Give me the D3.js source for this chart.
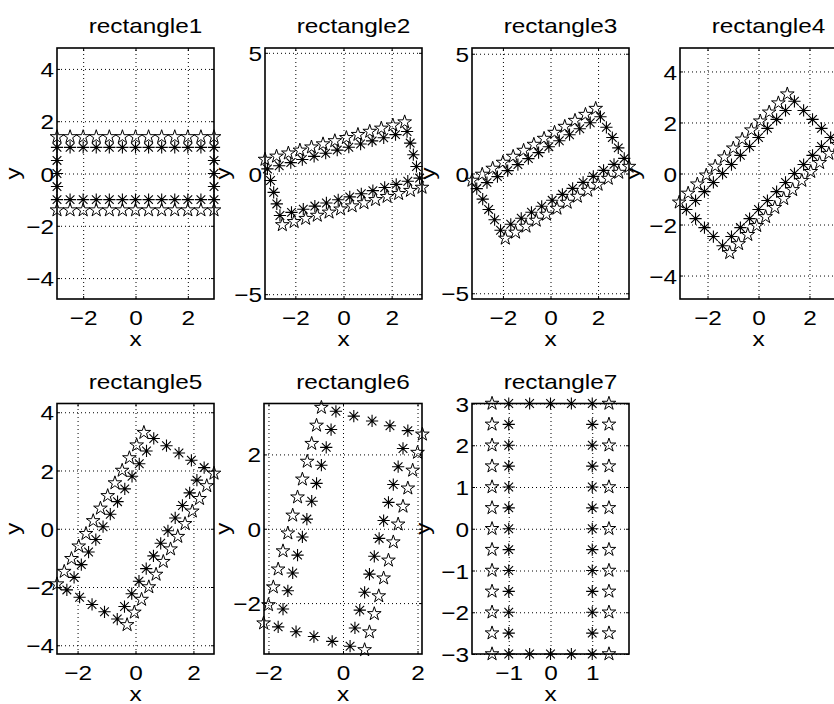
<!DOCTYPE html>
<html>
<head>
<meta charset="utf-8">
<script src="https://cdn.jsdelivr.net/npm/d3@7"></script>
<style>
  body { margin: 0; background: #fff; }
  svg { display: block; }
  text { font-family: "Liberation Sans", Arial, sans-serif; fill: #000; }
</style>
</head>
<body>
<svg class="vis" width="834" height="704"></svg>
<script>

const titles = ["rectangle1", "rectangle2", "rectangle3", "rectangle4", "rectangle5", "rectangle6", "rectangle7"];

// asterisk points (inner rectangle) and star points (outer rows), one pair of lists per panel
const rect1Ast = [[3,1],[2.5,1],[2,1],[1.5,1],[1,1],[0.5,1],[0,1],[-0.5,1],[-1,1],[-1.5,1],[-2,1],[-2.5,1],[-3,1],
  [-3,0.5],[-3,0],[-3,-0.5],
  [-3,-1],[-2.5,-1],[-2,-1],[-1.5,-1],[-1,-1],[-0.5,-1],[0,-1],[0.5,-1],[1,-1],[1.5,-1],[2,-1],[2.5,-1],[3,-1],
  [3,-0.5],[3,0],[3,0.5]];
const rect1Star = [[3,1.4],[2.5,1.4],[2,1.4],[1.5,1.4],[1,1.4],[0.5,1.4],[0,1.4],[-0.5,1.4],[-1,1.4],[-1.5,1.4],[-2,1.4],[-2.5,1.4],[-3,1.4],
  [-3,-1.4],[-2.5,-1.4],[-2,-1.4],[-1.5,-1.4],[-1,-1.4],[-0.5,-1.4],[0,-1.4],[0.5,-1.4],[1,-1.4],[1.5,-1.4],[2,-1.4],[2.5,-1.4],[3,-1.4]];

const rect2Ast = [[2.64,1.74],[2.16,1.61],[1.67,1.48],[1.19,1.35],[0.71,1.22],[0.22,1.09],[-0.26,0.97],[-0.74,0.84],[-1.22,0.71],[-1.71,0.58],[-2.19,0.45],[-2.67,0.32],[-3.16,0.19],
  [-3.03,-0.29],[-2.90,-0.78],[-2.77,-1.26],
  [-2.64,-1.74],[-2.16,-1.61],[-1.67,-1.48],[-1.19,-1.35],[-0.71,-1.22],[-0.22,-1.09],[0.26,-0.97],[0.74,-0.84],[1.22,-0.71],[1.71,-0.58],[2.19,-0.45],[2.67,-0.32],[3.16,-0.19],
  [3.03,0.29],[2.90,0.78],[2.77,1.26]];
const rect2Star = [[2.54,2.13],[2.05,2.00],[1.57,1.87],[1.09,1.74],[0.60,1.61],[0.12,1.48],[-0.36,1.35],[-0.85,1.22],[-1.33,1.09],[-1.81,0.96],[-2.29,0.84],[-2.78,0.71],[-3.26,0.58],
  [-2.54,-2.13],[-2.05,-2.00],[-1.57,-1.87],[-1.09,-1.74],[-0.60,-1.61],[-0.12,-1.48],[0.36,-1.35],[0.85,-1.22],[1.33,-1.09],[1.81,-0.96],[2.29,-0.84],[2.78,-0.71],[3.26,-0.58]];

const rect3Ast = [[2.10,2.37],[1.67,2.12],[1.23,1.87],[0.80,1.62],[0.37,1.37],[-0.07,1.12],[-0.5,0.87],[-0.93,0.62],[-1.37,0.37],[-1.80,0.12],[-2.23,-0.13],[-2.67,-0.38],[-3.10,-0.63],
  [-2.85,-1.07],[-2.60,-1.5],[-2.35,-1.93],
  [-2.10,-2.37],[-1.67,-2.12],[-1.23,-1.87],[-0.80,-1.62],[-0.37,-1.37],[0.07,-1.12],[0.5,-0.87],[0.93,-0.62],[1.37,-0.37],[1.80,-0.12],[2.23,0.13],[2.67,0.38],[3.10,0.63],
  [2.85,1.07],[2.60,1.5],[2.35,1.93]];
const rect3Star = [[1.90,2.71],[1.47,2.46],[1.03,2.21],[0.60,1.96],[0.17,1.71],[-0.27,1.46],[-0.7,1.21],[-1.13,0.96],[-1.57,0.71],[-2.00,0.46],[-2.43,0.21],[-2.87,-0.04],[-3.30,-0.29],
  [-1.90,-2.71],[-1.47,-2.46],[-1.03,-2.21],[-0.60,-1.96],[-0.17,-1.71],[0.27,-1.46],[0.7,-1.21],[1.13,-0.96],[1.57,-0.71],[2.00,-0.46],[2.43,-0.21],[2.87,0.04],[3.30,0.29]];

const rect4Ast = [[1.41,2.83],[1.06,2.47],[0.71,2.12],[0.35,1.77],[0,1.41],[-0.35,1.06],[-0.71,0.71],[-1.06,0.35],[-1.41,0],[-1.77,-0.35],[-2.12,-0.71],[-2.47,-1.06],[-2.83,-1.41],
  [-2.47,-1.77],[-2.12,-2.12],[-1.77,-2.47],
  [-1.41,-2.83],[-1.06,-2.47],[-0.71,-2.12],[-0.35,-1.77],[0,-1.41],[0.35,-1.06],[0.71,-0.71],[1.06,-0.35],[1.41,0],[1.77,0.35],[2.12,0.71],[2.47,1.06],[2.83,1.41],
  [2.47,1.77],[2.12,2.12],[1.77,2.47]];
const rect4Star = [[1.13,3.11],[0.78,2.76],[0.42,2.40],[0.07,2.05],[-0.28,1.70],[-0.64,1.34],[-0.99,0.99],[-1.34,0.64],[-1.70,0.28],[-2.05,-0.07],[-2.40,-0.42],[-2.76,-0.78],[-3.11,-1.13],
  [-1.13,-3.11],[-0.78,-2.76],[-0.42,-2.40],[-0.07,-2.05],[0.28,-1.70],[0.64,-1.34],[0.99,-0.99],[1.34,-0.64],[1.70,-0.28],[2.05,0.07],[2.40,0.42],[2.76,0.78],[3.11,1.13]];

const rect5Ast = [[0.63,3.10],[0.38,2.67],[0.13,2.23],[-0.12,1.80],[-0.37,1.37],[-0.62,0.93],[-0.87,0.5],[-1.12,0.07],[-1.37,-0.37],[-1.62,-0.80],[-1.87,-1.23],[-2.12,-1.67],[-2.37,-2.10],
  [-1.93,-2.35],[-1.5,-2.60],[-1.07,-2.85],
  [-0.63,-3.10],[-0.38,-2.67],[-0.13,-2.23],[0.12,-1.80],[0.37,-1.37],[0.62,-0.93],[0.87,-0.5],[1.12,-0.07],[1.37,0.37],[1.62,0.80],[1.87,1.23],[2.12,1.67],[2.37,2.10],
  [1.93,2.35],[1.5,2.60],[1.07,2.85]];
const rect5Star = [[0.29,3.30],[0.04,2.87],[-0.21,2.43],[-0.46,2.00],[-0.71,1.57],[-0.96,1.13],[-1.21,0.7],[-1.46,0.27],[-1.71,-0.17],[-1.96,-0.60],[-2.21,-1.03],[-2.46,-1.47],[-2.71,-1.90],
  [-0.29,-3.30],[-0.04,-2.87],[0.21,-2.43],[0.46,-2.00],[0.71,-1.57],[0.96,-1.13],[1.21,-0.7],[1.46,-0.27],[1.71,0.17],[1.96,0.60],[2.21,1.03],[2.46,1.47],[2.71,1.90]];

const rect6Ast = [[-0.19,3.16],[-0.32,2.67],[-0.45,2.19],[-0.58,1.71],[-0.71,1.22],[-0.84,0.74],[-0.97,0.26],[-1.09,-0.22],[-1.22,-0.71],[-1.35,-1.19],[-1.48,-1.67],[-1.61,-2.16],[-1.74,-2.64],
  [-1.26,-2.77],[-0.78,-2.90],[-0.29,-3.03],
  [0.19,-3.16],[0.32,-2.67],[0.45,-2.19],[0.58,-1.71],[0.71,-1.22],[0.84,-0.74],[0.97,-0.26],[1.09,0.22],[1.22,0.71],[1.35,1.19],[1.48,1.67],[1.61,2.16],[1.74,2.64],
  [1.26,2.77],[0.78,2.90],[0.29,3.03]];
const rect6Star = [[-0.58,3.26],[-0.71,2.78],[-0.84,2.29],[-0.96,1.81],[-1.09,1.33],[-1.22,0.85],[-1.35,0.36],[-1.48,-0.12],[-1.61,-0.60],[-1.74,-1.09],[-1.87,-1.57],[-2.00,-2.05],[-2.13,-2.54],
  [0.58,-3.26],[0.71,-2.78],[0.84,-2.29],[0.96,-1.81],[1.09,-1.33],[1.22,-0.85],[1.35,-0.36],[1.48,0.12],[1.61,0.60],[1.74,1.09],[1.87,1.57],[2.00,2.05],[2.13,2.54]];

const rect7Ast = [[-1,3],[-1,2.5],[-1,2],[-1,1.5],[-1,1],[-1,0.5],[-1,0],[-1,-0.5],[-1,-1],[-1,-1.5],[-1,-2],[-1,-2.5],[-1,-3],
  [-0.5,-3],[0,-3],[0.5,-3],
  [1,-3],[1,-2.5],[1,-2],[1,-1.5],[1,-1],[1,-0.5],[1,0],[1,0.5],[1,1],[1,1.5],[1,2],[1,2.5],[1,3],
  [0.5,3],[0,3],[-0.5,3]];
const rect7Star = [[-1.4,3],[-1.4,2.5],[-1.4,2],[-1.4,1.5],[-1.4,1],[-1.4,0.5],[-1.4,0],[-1.4,-0.5],[-1.4,-1],[-1.4,-1.5],[-1.4,-2],[-1.4,-2.5],[-1.4,-3],
  [1.4,-3],[1.4,-2.5],[1.4,-2],[1.4,-1.5],[1.4,-1],[1.4,-0.5],[1.4,0],[1.4,0.5],[1.4,1],[1.4,1.5],[1.4,2],[1.4,2.5],[1.4,3]];

const asterisks = [rect1Ast, rect2Ast, rect3Ast, rect4Ast, rect5Ast, rect6Ast, rect7Ast];
const stars = [rect1Star, rect2Star, rect3Star, rect4Star, rect5Star, rect6Star, rect7Star];

// symmetric axis limits (+/-) and tick values
const xLimits = [3, 3.26, 3.3, 3.08, 2.71, 2.12, 1.88];
const yLimits = [4.8, 5.2, 5.24, 4.92, 4.3, 3.37, 3];
const xTicks = [[-2,0,2], [-2,0,2], [-2,0,2], [-2,0,2], [-2,0,2], [-2,0,2], [-1,0,1]];
const yTicks = [[-4,-2,0,2,4], [-5,0,5], [-5,0,5], [-4,-2,0,2,4], [-4,-2,0,2,4], [-2,0,2], [-3,-2,-1,0,1,2,3]];

const v = {

    layout : {
        boxes : [
            {x: 57,  y: 48,    w: 157, h: 251, ylab: 20},
            {x: 265, y: 48,    w: 157, h: 251, ylab: 230},
            {x: 472, y: 48,    w: 157, h: 251, ylab: 435},
            {x: 680, y: 48,    w: 157, h: 251, ylab: 640},
            {x: 57,  y: 403.5, w: 157, h: 250.5, ylab: 20},
            {x: 264, y: 403.5, w: 158, h: 250.5, ylab: 230},
            {x: 472, y: 403.5, w: 157, h: 250.5, ylab: 430}
        ],
        stretch : 1.16,
        fontSize : 21
    },

    vis : {

        svg : 'svg.vis',

        asterisk : {
            draw : (context, size) => {
                const r = Math.sqrt(size) / 2;
                const d = r * Math.SQRT1_2;
                context.moveTo(-r, 0); context.lineTo(r, 0);
                context.moveTo(0, -r); context.lineTo(0, r);
                context.moveTo(-d, -d); context.lineTo(d, d);
                context.moveTo(-d, d); context.lineTo(d, -d);
            }
        },

        label : (g, x, y, str, anchor, rot) => {
            const s = v.layout.stretch;
            return g.append("text")
              .attr("transform", `translate(${x},${y})` + (rot ? ` rotate(${rot})` : "") + ` scale(${s},1)`)
              .attr("text-anchor", anchor)
              .attr("font-size", v.layout.fontSize)
              .text(str);
        },

        styleAxis : (ax) => {
            ax.attr("font-size", v.layout.fontSize)
              .attr("font-family", '"Liberation Sans", Arial, sans-serif');
            ax.select(".domain").remove();
            ax.selectAll(".tick line")
              .attr("stroke", "#000")
              .attr("stroke-width", 1)
              .attr("stroke-dasharray", "1,3");
        },

        panel : (i) => {

            const svg = d3.select(v.vis.svg);
            const b = v.layout.boxes[i];
            const s = v.layout.stretch;
            const fmt = d3.format("d");

            const x = d3.scaleLinear()
              .domain([-xLimits[i], xLimits[i]])
              .range([b.x, b.x + b.w]);
            const y = d3.scaleLinear()
              .domain([-yLimits[i], yLimits[i]])
              .range([b.y + b.h, b.y]);

            const g = svg.append("g");

            // dotted grid + tick labels
            const ax = g.append("g")
              .attr("transform", `translate(0,${b.y + b.h})`)
              .call(d3.axisBottom(x).tickValues(xTicks[i]).tickFormat(fmt).tickSizeInner(-b.h).tickSizeOuter(0));
            v.vis.styleAxis(ax);
            ax.selectAll(".tick text")
              .attr("y", null).attr("dy", null)
              .attr("transform", `translate(0,26) scale(${s},1)`);

            const ay = g.append("g")
              .attr("transform", `translate(${b.x},0)`)
              .call(d3.axisLeft(y).tickValues(yTicks[i]).tickFormat(fmt).tickSizeInner(-b.w).tickSizeOuter(0));
            v.vis.styleAxis(ay);
            ay.selectAll(".tick text")
              .attr("x", null).attr("dy", "0.36em")
              .attr("transform", `translate(-3,0) scale(${s},1)`);

            // small inward tick marks on all four sides
            const tick = (axis, tx, ty) => {
                const t = g.append("g")
                  .attr("transform", `translate(${tx},${ty})`)
                  .call(axis.tickSizeInner(-3).tickSizeOuter(0).tickFormat(""));
                t.select(".domain").remove();
                t.selectAll(".tick line").attr("stroke", "#000");
            };
            tick(d3.axisBottom(x).tickValues(xTicks[i]), 0, b.y + b.h);
            tick(d3.axisTop(x).tickValues(xTicks[i]), 0, b.y);
            tick(d3.axisLeft(y).tickValues(yTicks[i]), b.x, 0);
            tick(d3.axisRight(y).tickValues(yTicks[i]), b.x + b.w, 0);

            g.append("rect")
              .attr("x", b.x).attr("y", b.y)
              .attr("width", b.w).attr("height", b.h)
              .attr("fill", "none")
              .attr("stroke", "#000")
              .attr("stroke-width", 1.6);

            g.append("g")
              .selectAll("path")
              .data(asterisks[i])
              .join("path")
              .attr("transform", d => `translate(${x(d[0])},${y(d[1])})`)
              .attr("d", d3.symbol(v.vis.asterisk, 150))
              .attr("fill", "none")
              .attr("stroke", "#000")
              .attr("stroke-width", 1.1);

            g.append("g")
              .selectAll("path")
              .data(stars[i])
              .join("path")
              .attr("transform", d => `translate(${x(d[0])},${y(d[1])})`)
              .attr("d", d3.symbol(d3.symbolStar, 58))
              .attr("fill", "none")
              .attr("stroke", "#000")
              .attr("stroke-width", 1);

            // texts
            v.vis.label(g, b.x + b.w / 2 + 10, b.y - 15, titles[i], "middle");
            v.vis.label(g, b.x + b.w / 2, b.y + b.h + 46.5, "x", "middle");
            v.vis.label(g, b.ylab, b.y + b.h / 2, "y", "middle", -90);
        },

        draw : () => {
            titles.forEach((t, i) => v.vis.panel(i));
        }

    },

    ctrl : {
        init : () => {
            v.vis.draw();
        }
    }

};

v.ctrl.init();
</script>
</body>
</html>
